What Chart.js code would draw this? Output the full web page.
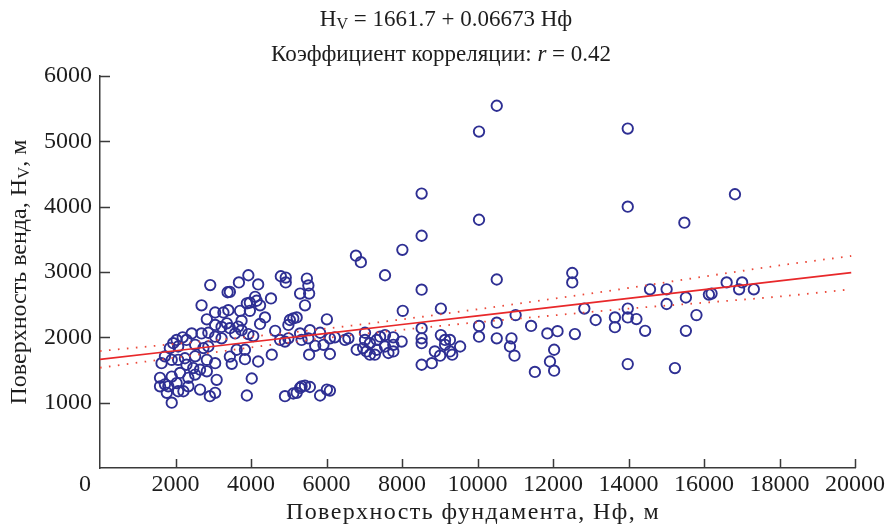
<!DOCTYPE html>
<html>
<head>
<meta charset="utf-8">
<script src="https://cdn.jsdelivr.net/npm/chart.js@4.4.1/dist/chart.umd.min.js"></script>
<style>
  html, body { margin: 0; background: #fff; }
  #wrap { width: 890px; height: 529px; }
</style>
</head>
<body>
<div id="wrap"><canvas id="chart" width="890" height="529"></canvas></div>
<script>
const xTicks = [0, 2000, 4000, 6000, 8000, 10000, 12000, 14000, 16000, 18000, 20000];
const yTicks = [1000, 2000, 3000, 4000, 5000, 6000];

// Нф (foundation surface), m
const foundationX = [
  1900, 1590, 1720, 1590, 1810, 2030, 1770, 2070, 2210, 2340, 2650, 1900, 2120, 2340, 2520,
  2290, 2470, 2650, 2830, 1720, 1630, 1900, 2070, 2250, 2520, 2830, 3050, 1850, 2070, 1940,
  2030, 2190, 2290, 2520, 2740, 2870, 2430, 2690, 2870, 3050, 3220, 2830, 3050, 3220, 3360,
  3050, 3270, 3400, 2690, 2920, 3380, 3090, 3050, 2910,
  3930, 3680, 4190, 3440, 4790, 4920, 4920, 5300, 4530, 4110, 4150, 3970, 3890, 4240, 3970,
  3710, 4370, 4240, 3750, 3660, 3440, 3750, 3930, 4060, 3580, 5030, 5120, 5210, 4990, 4640,
  4770, 4900, 4990, 5300, 5340, 3840, 3620, 3440, 3490, 3840, 4190, 4550, 4020, 3890, 4900,
  5120, 5300,
  6780, 6910, 5480, 5520, 5540, 5430, 6010, 5560, 5830, 5520, 5700, 5920, 6090, 6220, 6490,
  6580, 5540, 6090, 7020, 7020, 7150, 6800, 6970, 7060, 7150, 5340, 5430, 5560, 5830, 6010,
  5210,
  8520, 8010, 7550, 8520, 8020, 9030, 7330, 7420, 7550, 7770, 7990, 7550, 7770, 7330, 7280,
  7640, 7770, 8520, 8520, 8520, 8520, 8790, 9030, 9140, 9270, 9140, 9540, 9270, 9330, 9010,
  8870, 8520, 6090,
  10510, 10040, 13980, 10040, 13980, 16820, 15480, 10510, 12510, 12510, 11010, 12830, 13130,
  13640, 13640, 13980, 13980, 14210, 11420, 10040, 10040, 10510, 10510, 10900, 10860, 10980,
  11850, 12120, 12580, 12030, 11920, 12030, 11520, 13980, 14570, 15010, 15010, 15520, 15800,
  16130, 16200, 16600, 17010, 16930, 17320, 14440, 15520, 15230
];

// H_V (Vendian surface), m
const vendY = [
  1000, 1380, 1280, 1250, 1250, 1300, 1150, 1175, 1175, 1250, 1200, 1400, 1455, 1380, 1430,
  1580, 1530, 1505, 1480, 1710, 1605, 1655, 1655, 1680, 1710, 1655, 1605, 1835, 1860, 1910,
  1960, 2000, 1960, 1885, 1835, 1860, 2060, 2060, 2070, 2010, 1985, 2275, 2190, 2160, 2215,
  2380, 2380, 2415, 2490, 2800, 2690, 1350, 1150, 1100,
  2950, 2840, 2810, 2695, 2935, 2915, 2840, 2670, 2595, 2620, 2560, 2530, 2520, 2490, 2405,
  2405, 2305, 2205, 2255, 2165, 2140, 2110, 2050, 2020, 2060, 2265, 2290, 2305, 2190, 2100,
  1960, 1935, 1985, 2060, 1960, 1810, 1810, 1705, 1595, 1665, 1630, 1735, 1370, 1110, 1100,
  1140, 1225,
  3250, 3150, 2900, 2795, 2670, 2490, 2275, 2110, 2070, 1985, 1870, 1885, 1985, 2000, 1960,
  1985, 1735, 1745, 2070, 1960, 1910, 1810, 1835, 1785, 1735, 1250, 1260, 1240, 1110, 1200,
  1150,
  3555, 3340, 2950, 2730, 2405, 2440, 1960, 2010, 2035, 2000, 1935, 1860, 1885, 1810, 1735,
  1760, 1785, 2140, 1985, 1910, 1580, 1605, 2035, 1960, 1960, 1885, 1860, 1785, 1735, 1720,
  1785, 4200, 1185,
  5545, 5150, 5195, 3800, 4000, 4190, 3755, 2885, 2985, 2840, 2340, 2440, 2265,
  2305, 2155, 2440, 2305, 2280, 2175, 2175, 2010, 2225, 1985, 1985, 1860, 1720,
  2060, 2095, 2050, 1810, 1630, 1490, 1470, 1590, 2735, 2735, 2510, 2610, 2340,
  2655, 2670, 2840, 2840, 2735, 2735, 2100, 2100, 1530
];

// regression line and its dotted confidence band
const fitX = [0, 2000, 4000, 6000, 8000, 10000, 12000, 14000, 16000, 18000, 19900];
const fitY = [1662, 1795, 1929, 2062, 2196, 2329, 2462, 2596, 2729, 2863, 2990];
const bandUpper = [1790, 1900, 2010, 2135, 2275, 2430, 2590, 2755, 2930, 3100, 3245];
const bandLower = [1535, 1690, 1845, 1990, 2115, 2230, 2335, 2440, 2530, 2625, 2735];

const SERIF = '"Liberation Serif", "Times New Roman", serif';
const INK = '#1d1d1d';
const AXIS = '#3a3a3a';

const toPts = (xs, ys) => xs.map((x, i) => ({ x, y: ys[i] }));

// draws a run of text pieces (some subscript / italic) centred on cx
function drawRuns(ctx, runs, cx, cy) {
  let total = 0;
  runs.forEach((r) => {
    ctx.font = r.font;
    r.w = ctx.measureText(r.text).width;
    total += r.w;
  });
  let x = cx - total / 2;
  ctx.textAlign = 'left';
  ctx.textBaseline = 'middle';
  runs.forEach((r) => {
    ctx.font = r.font;
    ctx.fillText(r.text, x, cy + (r.dy || 0));
    x += r.w;
  });
}

const decorPlugin = {
  id: 'decor',
  afterDraw(chart) {
    const { ctx, chartArea, scales } = chart;
    ctx.save();

    // inward tick marks
    ctx.strokeStyle = AXIS;
    ctx.lineWidth = 1.5;
    ctx.beginPath();
    xTicks.forEach((v) => {
      if (v === 0) return;
      const px = Math.round(scales.x.getPixelForValue(v)) + 0.5;
      ctx.moveTo(px, chartArea.bottom);
      ctx.lineTo(px, chartArea.bottom - 9);
    });
    yTicks.forEach((v) => {
      const py = Math.round(scales.y.getPixelForValue(v)) + 0.5;
      ctx.moveTo(chartArea.left, py);
      ctx.lineTo(chartArea.left + 10, py);
    });
    ctx.stroke();

    // title lines
    ctx.fillStyle = INK;
    const f = '23px ' + SERIF;
    const fs = '16px ' + SERIF;
    drawRuns(ctx, [
      { text: 'H', font: f },
      { text: 'V', font: fs, dy: 5 },
      { text: ' = 1661.7 + 0.06673 Hф', font: f }
    ], 446, 20);
    drawRuns(ctx, [
      { text: 'Коэффициент корреляции: ', font: f },
      { text: 'r', font: 'italic 23px ' + SERIF },
      { text: ' = 0.42', font: f }
    ], 441, 55);

    // x axis title (slightly tracked, like the source typeface)
    ctx.save();
    if ('letterSpacing' in ctx) ctx.letterSpacing = '1.4px';
    drawRuns(ctx, [{ text: 'Поверхность фундамента, Нф, м', font: '24px ' + SERIF }], 473, 513);
    ctx.restore();

    // y axis title
    ctx.translate(20, (chartArea.top + chartArea.bottom) / 2);
    ctx.rotate(-Math.PI / 2);
    drawRuns(ctx, [
      { text: 'Поверхность венда, H', font: '24px ' + SERIF },
      { text: 'V', font: '17px ' + SERIF, dy: 5 },
      { text: ', м', font: '24px ' + SERIF }
    ], 0, 0);
    ctx.restore();
  }
};

new Chart(document.getElementById('chart'), {
  type: 'scatter',
  data: {
    datasets: [
      {
        type: 'line',
        data: toPts(fitX, fitY),
        borderColor: '#e8282a',
        borderWidth: 1.7,
        pointRadius: 0,
        order: 0
      },
      {
        type: 'line',
        data: toPts(fitX, bandUpper),
        borderColor: '#ec4a3a',
        borderWidth: 1.8,
        borderDash: [1.6, 7.4],
        pointRadius: 0,
        tension: 0.4,
        cubicInterpolationMode: 'monotone',
        order: 0
      },
      {
        type: 'line',
        data: toPts(fitX, bandLower),
        borderColor: '#ec4a3a',
        borderWidth: 1.8,
        borderDash: [1.6, 7.4],
        pointRadius: 0,
        tension: 0.4,
        cubicInterpolationMode: 'monotone',
        order: 0
      },
      {
        data: toPts(foundationX, vendY),
        pointStyle: 'circle',
        pointRadius: 5.2,
        borderWidth: 1.9,
        borderColor: '#2e2f93',
        backgroundColor: 'rgba(0,0,0,0)',
        order: 1
      }
    ]
  },
  options: {
    responsive: false,
    animation: false,
    devicePixelRatio: 1,
    layout: { padding: { top: 76, right: 35, left: 0, bottom: 0 } },
    plugins: {
      legend: { display: false },
      tooltip: { enabled: false },
      title: { display: false }
    },
    scales: {
      x: {
        type: 'linear',
        min: 0,
        max: 20000,
        afterBuildTicks: (s) => { s.ticks = xTicks.map((value) => ({ value })); },
        afterFit: (s) => { s.height = 61; },
        grid: { display: false },
        border: { display: true, color: AXIS, width: 1.5 },
        ticks: {
          autoSkip: false,
          maxRotation: 0,
          padding: -6,
          color: INK,
          font: { family: SERIF, size: 24 },
          callback: (v) => (v === 0 ? '0     ' : String(v))
        },
        title: { display: false }
      },
      y: {
        type: 'linear',
        min: 0,
        max: 6000,
        afterBuildTicks: (s) => { s.ticks = yTicks.map((value) => ({ value })); },
        afterFit: (s) => { s.width = 100; },
        grid: { display: false },
        border: { display: true, color: AXIS, width: 1.5 },
        ticks: {
          padding: 0,
          color: INK,
          font: { family: SERIF, size: 24 },
          callback: (v) => String(v)
        }
      }
    }
  },
  plugins: [decorPlugin]
});
</script>
</body>
</html>
